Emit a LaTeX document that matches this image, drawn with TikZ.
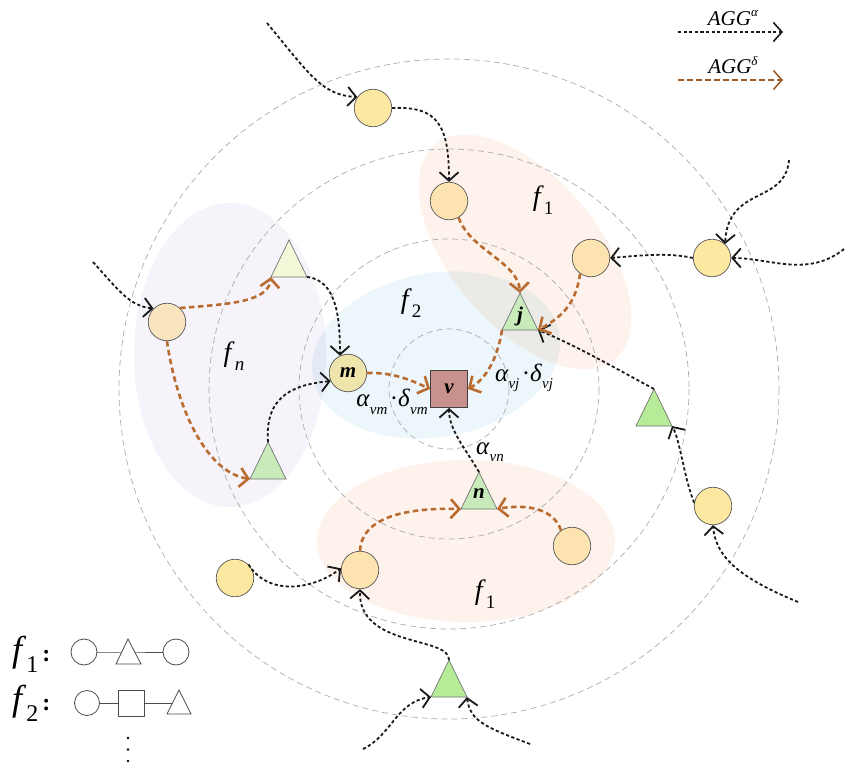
\documentclass[tikz,border=0pt]{standalone}
\usepackage{fontspec}
\setmainfont{Liberation Serif}
\usetikzlibrary{arrows.meta}

\definecolor{yel}{HTML}{FDE8A2}
\definecolor{org}{HTML}{FDE3AF}
\definecolor{bei}{HTML}{F8E5BF}
\definecolor{khk}{HTML}{EEE4AC}
\definecolor{tpale}{HTML}{F4F8D8}
\definecolor{tgrn}{HTML}{C9EBBB}
\definecolor{tbri}{HTML}{B6EB98}
\definecolor{sqc}{HTML}{C8918E}
\definecolor{brn}{HTML}{BA6C30}
\definecolor{lav}{HTML}{F6F3FA}
\definecolor{blu}{HTML}{EDF6FA}
\definecolor{pch}{HTML}{FDF3EC}

\pgfdeclarelayer{back}
\pgfsetlayers{back,main}

% symbol with a lowered index: size, index size, base, index
\newcommand\sym[4]{{\fontsize{#1}{#1}\selectfont #3\raisebox{-0.3em}{\fontsize{#2}{#2}\selectfont #4}}}
% triangle with named apex / left / right corners
\newcommand\tri[4]{%
  \coordinate (#1-t) at (#2,#3);
  \coordinate (#1-l) at ({#2-18},{#3+37});
  \coordinate (#1-r) at ({#2+18},{#3+37});
  \filldraw[trishape,fill=#4] (#1-t) -- (#1-r) -- (#1-l) -- cycle;}

\tikzset{
  ring/.style={draw=black!33, line width=0.7pt, dash pattern=on 6pt off 4pt},
  agg/.style={draw=black!90, line width=1.8pt, dash pattern=on 3.2pt off 2.4pt,
    -{Straight Barb[length=8.5pt,width=19pt]}},
  del/.style={draw=brn, line width=2.6pt, dash pattern=on 5.5pt off 3.5pt,
    -{Straight Barb[length=8.5pt,width=19pt]}},
  dot/.style={circle, draw=black!65, line width=0.7pt, minimum size=37.5pt, inner sep=0pt},
  sq/.style={rectangle, draw=black!75, line width=0.8pt, fill=sqc, minimum size=37pt, inner sep=0pt},
  trishape/.style={draw=black!55, line width=0.7pt, line join=miter},
  nlab/.style={font=\fontsize{21}{21}\selectfont\bfseries\itshape},
  lshape/.style={draw=black!70, line width=0.8pt, fill=white},
  lline/.style={draw=black!70, line width=1pt},
}

\begin{document}
\begin{tikzpicture}[x=1pt,y=-1pt]
\useasboundingbox (0,0) rectangle (846,763);

% tinted groups
\fill[lav] (230,355) ellipse [x radius=96, y radius=152];
\fill[pch] (466,541) ellipse [x radius=149, y radius=81];
\fill[pch, rotate around={-50:(525,252)}] (525,252) ellipse [x radius=140, y radius=74];
\fill[blu, blend mode=multiply, rotate around={10:(436,355)}] (436,355) ellipse [x radius=125, y radius=82];

% hop rings around the centre node
\coordinate (o) at (449,389);
\foreach \r in {60,150,240,330} \draw[ring] (o) circle[radius=\r];

% group labels
\node at (543,200) {\sym{28}{19}{\textit{f}}{1}};
\node at (411,303) {\sym{28}{19}{\textit{f}}{2}};
\node at (234,356) {\sym{28}{19}{\textit{f}}{\textit{n}}};
\node at (485,594) {\sym{28}{19}{\textit{f}}{1}};

% weights
\node at (392,402) {\sym{25}{15}{\textit{α}}{\textit{vm}} \sym{25}{15}{·\textit{δ}}{\textit{vm}}};
\node at (524,378) {\sym{25}{15}{\textit{α}}{\textit{vj}} \sym{25}{15}{·\textit{δ}}{\textit{vj}}};
\node at (490,452) {\sym{25}{15}{\textit{α}}{\textit{vn}}};

% circle nodes
\node[dot, fill=yel] (c1) at (373,108) {};
\node[dot, fill=org] (c2) at (449,201) {};
\node[dot, fill=org] (c3) at (591,258) {};
\node[dot, fill=yel] (c4) at (712,258) {};
\node[dot, fill=bei] (c5) at (167,322) {};
\node[dot, fill=khk, nlab] (m) at (348,373) {m};
\node[dot, fill=yel] (c6) at (713,506) {};
\node[dot, fill=org] (c7) at (572,546) {};
\node[dot, fill=org] (c8) at (360,570) {};
\node[dot, fill=yel] (c9) at (235,578) {};
\node[sq, nlab] (v) at (o) {v};

% triangle nodes
\tri{t1}{289}{240}{tpale}
\tri{t2}{268}{442}{tgrn}
\tri{j}{520}{293}{tgrn}
\tri{t4}{654}{389}{tbri}
\tri{n}{479}{472}{tgrn}
\tri{t6}{449}{660}{tbri}
\node[nlab] (jl) at (520,316) {j};
\node[nlab] (nl) at (479,494) {n};

% alpha aggregation
\coordinate (s1) at (267,23);
\coordinate (s2) at (789,160);
\coordinate (s3) at (844,249);
\coordinate (s4) at (798,602);
\coordinate (s5) at (363,749);
\coordinate (s6) at (530,744);
\coordinate (s7) at (93,262);
\draw[agg] (s1) .. controls (310,75) and (322,95) .. (c1.145);
\draw[agg] (c1.east) .. controls (438,106) and (449,125) .. (c2.north);
\draw[agg] (s2) .. controls (785,205) and (728,185) .. (c4.47);
\draw[agg] (s3) .. controls (808,278) and (770,258) .. (c4.east);
\draw[agg] (c4.west) .. controls (668,252) and (635,256) .. (c3.east);
\draw[agg] (t1-r) .. controls (338,280) and (340,322) .. (m.115);
\draw[agg] (t2-t) .. controls (264,392) and (300,384) .. (m.205);
\draw[agg] (n-t) .. controls (465,448) and (449,430) .. (v.south);
\draw[agg] (t4-t) .. controls (615,368) and (575,345) .. (j-r);
\draw[agg] (c6.170) .. controls (684,478) and (680,440) .. (t4-r);
\draw[agg] (s4) .. controls (745,580) and (716,560) .. (c6.south);
\draw[agg] (c9.45) .. controls (268,596) and (312,590) .. (c8.175);
\draw[agg] (t6-t) .. controls (450,636) and (358,648) .. (c8.south);
\draw[agg] (s5) .. controls (392,735) and (396,702) .. (t6-l);
\draw[agg] (s6) .. controls (488,728) and (470,722) .. (t6-r);
\draw[agg] (s7) .. controls (120,292) and (130,306) .. (c5.135);

% delta aggregation
\draw[del] (c2.300) .. controls (470,250) and (518,262) .. (j-t);
\draw[del] (c3.235) .. controls (576,305) and (560,318) .. (j-r);
\draw[del] (j-l) .. controls (498,355) and (488,378) .. (v.east);
\draw[del] (m.east) .. controls (395,372) and (415,382) .. (v.west);
\draw[del] (c5.47) .. controls (230,304) and (268,302) .. (t1-l);
\draw[del] (c5.south) .. controls (176,405) and (205,472) .. (t2-l);
\draw[del] (c8.north) .. controls (362,512) and (420,508) .. (n-l);
\draw[del] (c7.125) .. controls (552,505) and (520,505) .. (n-r);

% key: aggregation arrows
\coordinate (ka1) at (678,32);
\coordinate (kb1) at (783,32);
\coordinate (ka2) at (678,80);
\coordinate (kb2) at (783,80);
\draw[agg, line width=1.6pt] (ka1) -- (kb1);
\draw[del, line width=1.6pt, draw=brn!85!black] (ka2) -- (kb2);
\node at (733,18) {\fontsize{21}{21}\selectfont\textit{AGG}\raisebox{0.42em}{\fontsize{13}{13}\selectfont\textit{α}}};
\node at (733,65) {\fontsize{21}{21}\selectfont\textit{AGG}\raisebox{0.42em}{\fontsize{13}{13}\selectfont\textit{δ}}};

% key: group patterns
\node[anchor=west, inner sep=0pt] at (12,654) {\sym{36}{24}{\textit{f}}{1}{\fontsize{24}{24}\selectfont\,\textbf{:}}};
\node[anchor=west, inner sep=0pt] at (12,703) {\sym{36}{24}{\textit{f}}{2}{\fontsize{24}{24}\selectfont\,\textbf{:}}};
\node[circle, lshape, minimum size=26pt, inner sep=0pt] (lc1) at (84,652) {};
\coordinate (lt1) at (128,652);
\filldraw[lshape] (128,639) -- (141,664) -- (116,664) -- cycle;
\node[circle, lshape, minimum size=26pt, inner sep=0pt] (lc2) at (176,652) {};
\node[circle, lshape, minimum size=25pt, inner sep=0pt] (lc3) at (87,703) {};
\node[rectangle, lshape, minimum size=26pt, inner sep=0pt] (ls) at (131,703) {};
\coordinate (lt2) at (179,703);
\filldraw[lshape] (179,690) -- (191,714) -- (167,714) -- cycle;
\begin{pgfonlayer}{back}
  \draw[lline] (lc1) -- (lt1) -- (lc2);
  \draw[lline] (lc3) -- (ls) -- (lt2);
\end{pgfonlayer}
\foreach \yy in {738,749.5,761} \fill (128,\yy) circle[radius=1.3];
\end{tikzpicture}
\end{document}
